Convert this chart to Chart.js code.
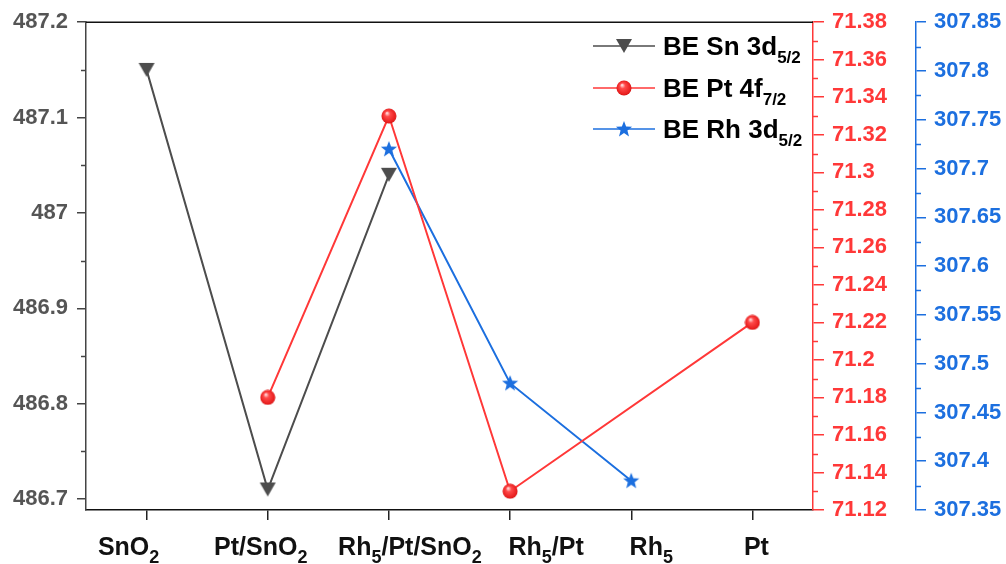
<!DOCTYPE html>
<html>
<head>
<meta charset="utf-8">
<script src="https://cdn.jsdelivr.net/npm/chart.js@4.4.0/dist/chart.umd.min.js"></script>
<style>
  html, body { margin: 0; padding: 0; background: #fff; }
  #wrap { width: 1006px; height: 564px; }
</style>
</head>
<body>
<div id="wrap"><canvas id="chart"></canvas></div>
<script>
// data
const categories = ['SnO2', 'Pt/SnO2', 'Rh5/Pt/SnO2', 'Rh5/Pt', 'Rh5', 'Pt'];
const seriesNames = ['BE Sn 3d_5/2', 'BE Pt 4f_7/2', 'BE Rh 3d_5/2'];
const snBE = [487.15, 486.71, 487.04, null, null, null];
const ptBE = [null, 71.18, 71.33, 71.13, null, 71.22];
const rhBE = [null, null, 307.72, 307.48, 307.38, null];
const snTicks = [486.7, 486.8, 486.9, 487.0, 487.1, 487.2];
const ptTicks = [71.12, 71.14, 71.16, 71.18, 71.2, 71.22, 71.24, 71.26, 71.28, 71.3, 71.32, 71.34, 71.36, 71.38];
const rhTicks = [307.35, 307.4, 307.45, 307.5, 307.55, 307.6, 307.65, 307.7, 307.75, 307.8, 307.85];

const FONT = '"Liberation Sans", Arial, sans-serif';
const GREY = '#4d4d4d';
const RED = '#ff3838';
const BLUE = '#1c6fdf';

// marker images
function makeTriangle() {
  const c = document.createElement('canvas');
  c.width = 18; c.height = 16;
  const g = c.getContext('2d');
  g.fillStyle = GREY;
  g.beginPath();
  g.moveTo(1, 1); g.lineTo(17, 1); g.lineTo(9, 15); g.closePath();
  g.fill();
  return c;
}
function makeSphere() {
  const c = document.createElement('canvas');
  c.width = 16; c.height = 16;
  const g = c.getContext('2d');
  const grd = g.createRadialGradient(6, 5, 0.5, 8, 8, 8);
  grd.addColorStop(0, '#ffd8d8');
  grd.addColorStop(0.3, '#ff4a4a');
  grd.addColorStop(0.85, '#e81e1e');
  grd.addColorStop(1, '#c41010');
  g.fillStyle = grd;
  g.beginPath(); g.arc(8, 8, 7.5, 0, Math.PI * 2); g.fill();
  return c;
}
function makeStar() {
  const c = document.createElement('canvas');
  c.width = 18; c.height = 18;
  const g = c.getContext('2d');
  g.fillStyle = BLUE;
  g.beginPath();
  for (let i = 0; i < 10; i++) {
    const r = i % 2 === 0 ? 8.5 : 3.6;
    const a = -Math.PI / 2 + i * Math.PI / 5;
    const x = 9 + r * Math.cos(a), y = 9.5 + r * Math.sin(a);
    if (i === 0) g.moveTo(x, y); else g.lineTo(x, y);
  }
  g.closePath(); g.fill();
  return c;
}
const triImg = makeTriangle();
const sphereImg = makeSphere();
const starImg = makeStar();

function fmt(v) { return String(Number(v.toFixed(2))); }
function setTicks(list) { return function (scale) { scale.ticks = list.map(v => ({ value: v })); }; }

// text with subscripts: digits are subscripts in category names, '_' marks subscript in legend
function drawRich(ctx, parts, x, y, size, subSize, subDy, align) {
  const mainF = 'bold ' + size + 'px ' + FONT;
  const subF = 'bold ' + subSize + 'px ' + FONT;
  let total = 0;
  parts.forEach(p => { ctx.font = p.sub ? subF : mainF; total += ctx.measureText(p.t).width; });
  let cx = align === 'center' ? x - total / 2 : x;
  ctx.textAlign = 'left';
  ctx.textBaseline = 'alphabetic';
  parts.forEach(p => {
    ctx.font = p.sub ? subF : mainF;
    ctx.fillText(p.t, cx, p.sub ? y + subDy : y);
    cx += ctx.measureText(p.t).width;
  });
}
function catParts(s) {
  return s.split(/(\d+)/).filter(t => t).map(t => ({ t: t, sub: /^\d+$/.test(t) }));
}
function legParts(s) {
  const [a, b] = s.split('_');
  return [{ t: a, sub: false }, { t: b, sub: true }];
}

// labels in the original sit a little off their ticks
const labelShift = [-18, -7, 21, 36, 20, 4];

const extras = {
  id: 'extras',
  afterDraw(chart) {
    const ctx = chart.ctx;
    const area = chart.chartArea;
    ctx.save();
    // top frame line
    ctx.strokeStyle = '#111';
    ctx.lineWidth = 1.5;
    ctx.beginPath();
    ctx.moveTo(area.left, area.top); ctx.lineTo(area.right, area.top);
    ctx.stroke();

    // minor ticks
    const minor = [['y', snTicks, '#444', -1], ['yPt', ptTicks, RED, 1], ['yRh', rhTicks, BLUE, 1]];
    minor.forEach(([id, list, col, dir]) => {
      const sc = chart.scales[id];
      const x0 = dir < 0 ? sc.right : sc.left;
      ctx.strokeStyle = col;
      ctx.lineWidth = 1.5;
      for (let i = 0; i < list.length - 1; i++) {
        const y = Math.round(sc.getPixelForValue((list[i] + list[i + 1]) / 2)) + 0.5;
        ctx.beginPath(); ctx.moveTo(x0, y); ctx.lineTo(x0 + dir * 5, y); ctx.stroke();
      }
    });

    // category labels
    const xs = chart.scales.x;
    ctx.fillStyle = '#111';
    categories.forEach((c, i) => {
      drawRich(ctx, catParts(c), xs.getPixelForValue(i) + labelShift[i], 555, 25, 18, 8, 'center');
    });

    // legend
    const cols = [GREY, RED, BLUE];
    const imgs = [triImg, sphereImg, starImg];
    const rows = [46, 88, 129];
    seriesNames.forEach((n, i) => {
      const y = rows[i];
      ctx.strokeStyle = cols[i];
      ctx.lineWidth = 1.5;
      ctx.beginPath(); ctx.moveTo(593, y); ctx.lineTo(655, y); ctx.stroke();
      const im = imgs[i];
      ctx.drawImage(im, 624 - im.width / 2, y - im.height / 2);
      ctx.fillStyle = '#000';
      drawRich(ctx, legParts(n), 663, y + 9, 26, 17, 8, 'left');
    });
    ctx.restore();
  }
};

const tickFont = { family: FONT, size: 22, weight: 'bold' };

new Chart(document.getElementById('chart'), {
  type: 'line',
  data: {
    labels: categories,
    datasets: [
      { label: seriesNames[0], data: snBE, yAxisID: 'y', borderColor: GREY, borderWidth: 2,
        pointStyle: triImg, tension: 0 },
      { label: seriesNames[1], data: ptBE, yAxisID: 'yPt', borderColor: RED, borderWidth: 2,
        pointStyle: sphereImg, spanGaps: true, tension: 0 },
      { label: seriesNames[2], data: rhBE, yAxisID: 'yRh', borderColor: BLUE, borderWidth: 2,
        pointStyle: starImg, tension: 0 }
    ]
  },
  options: {
    responsive: true,
    maintainAspectRatio: false,
    animation: false,
    layout: { padding: { top: 20, left: 0, right: 0, bottom: 0 } },
    plugins: { legend: { display: false }, tooltip: { enabled: false } },
    scales: {
      x: {
        offset: true,
        grid: { drawOnChartArea: false, drawTicks: true, tickLength: 10, color: '#222', lineWidth: 1.5 },
        border: { color: '#111', width: 1.5 },
        ticks: { display: false },
        afterFit: s => { s.height = 54; }
      },
      y: {
        position: 'left', min: 486.6885, max: 487.2,
        afterBuildTicks: setTicks(snTicks),
        ticks: { color: '#555', font: tickFont, padding: 9, callback: v => fmt(v) },
        grid: { drawOnChartArea: false, tickLength: 9, color: '#444', lineWidth: 1.5 },
        border: { color: '#444', width: 1.5 },
        afterFit: s => { s.width = 86; }
      },
      yPt: {
        position: 'right', min: 71.12, max: 71.38, weight: 0,
        afterBuildTicks: setTicks(ptTicks),
        ticks: { color: RED, font: tickFont, padding: 8, callback: v => fmt(v) },
        grid: { drawOnChartArea: false, tickLength: 11, color: RED, lineWidth: 1.5 },
        border: { color: RED, width: 1.5 },
        afterFit: s => { s.width = 103; }
      },
      yRh: {
        position: 'right', min: 307.35, max: 307.85, weight: 1,
        afterBuildTicks: setTicks(rhTicks),
        ticks: { color: BLUE, font: tickFont, padding: 8, callback: v => fmt(v) },
        grid: { drawOnChartArea: false, tickLength: 10, color: BLUE, lineWidth: 1.5 },
        border: { color: BLUE, width: 1.5 },
        afterFit: s => { s.width = 90; }
      }
    }
  },
  plugins: [extras]
});
</script>
</body>
</html>
